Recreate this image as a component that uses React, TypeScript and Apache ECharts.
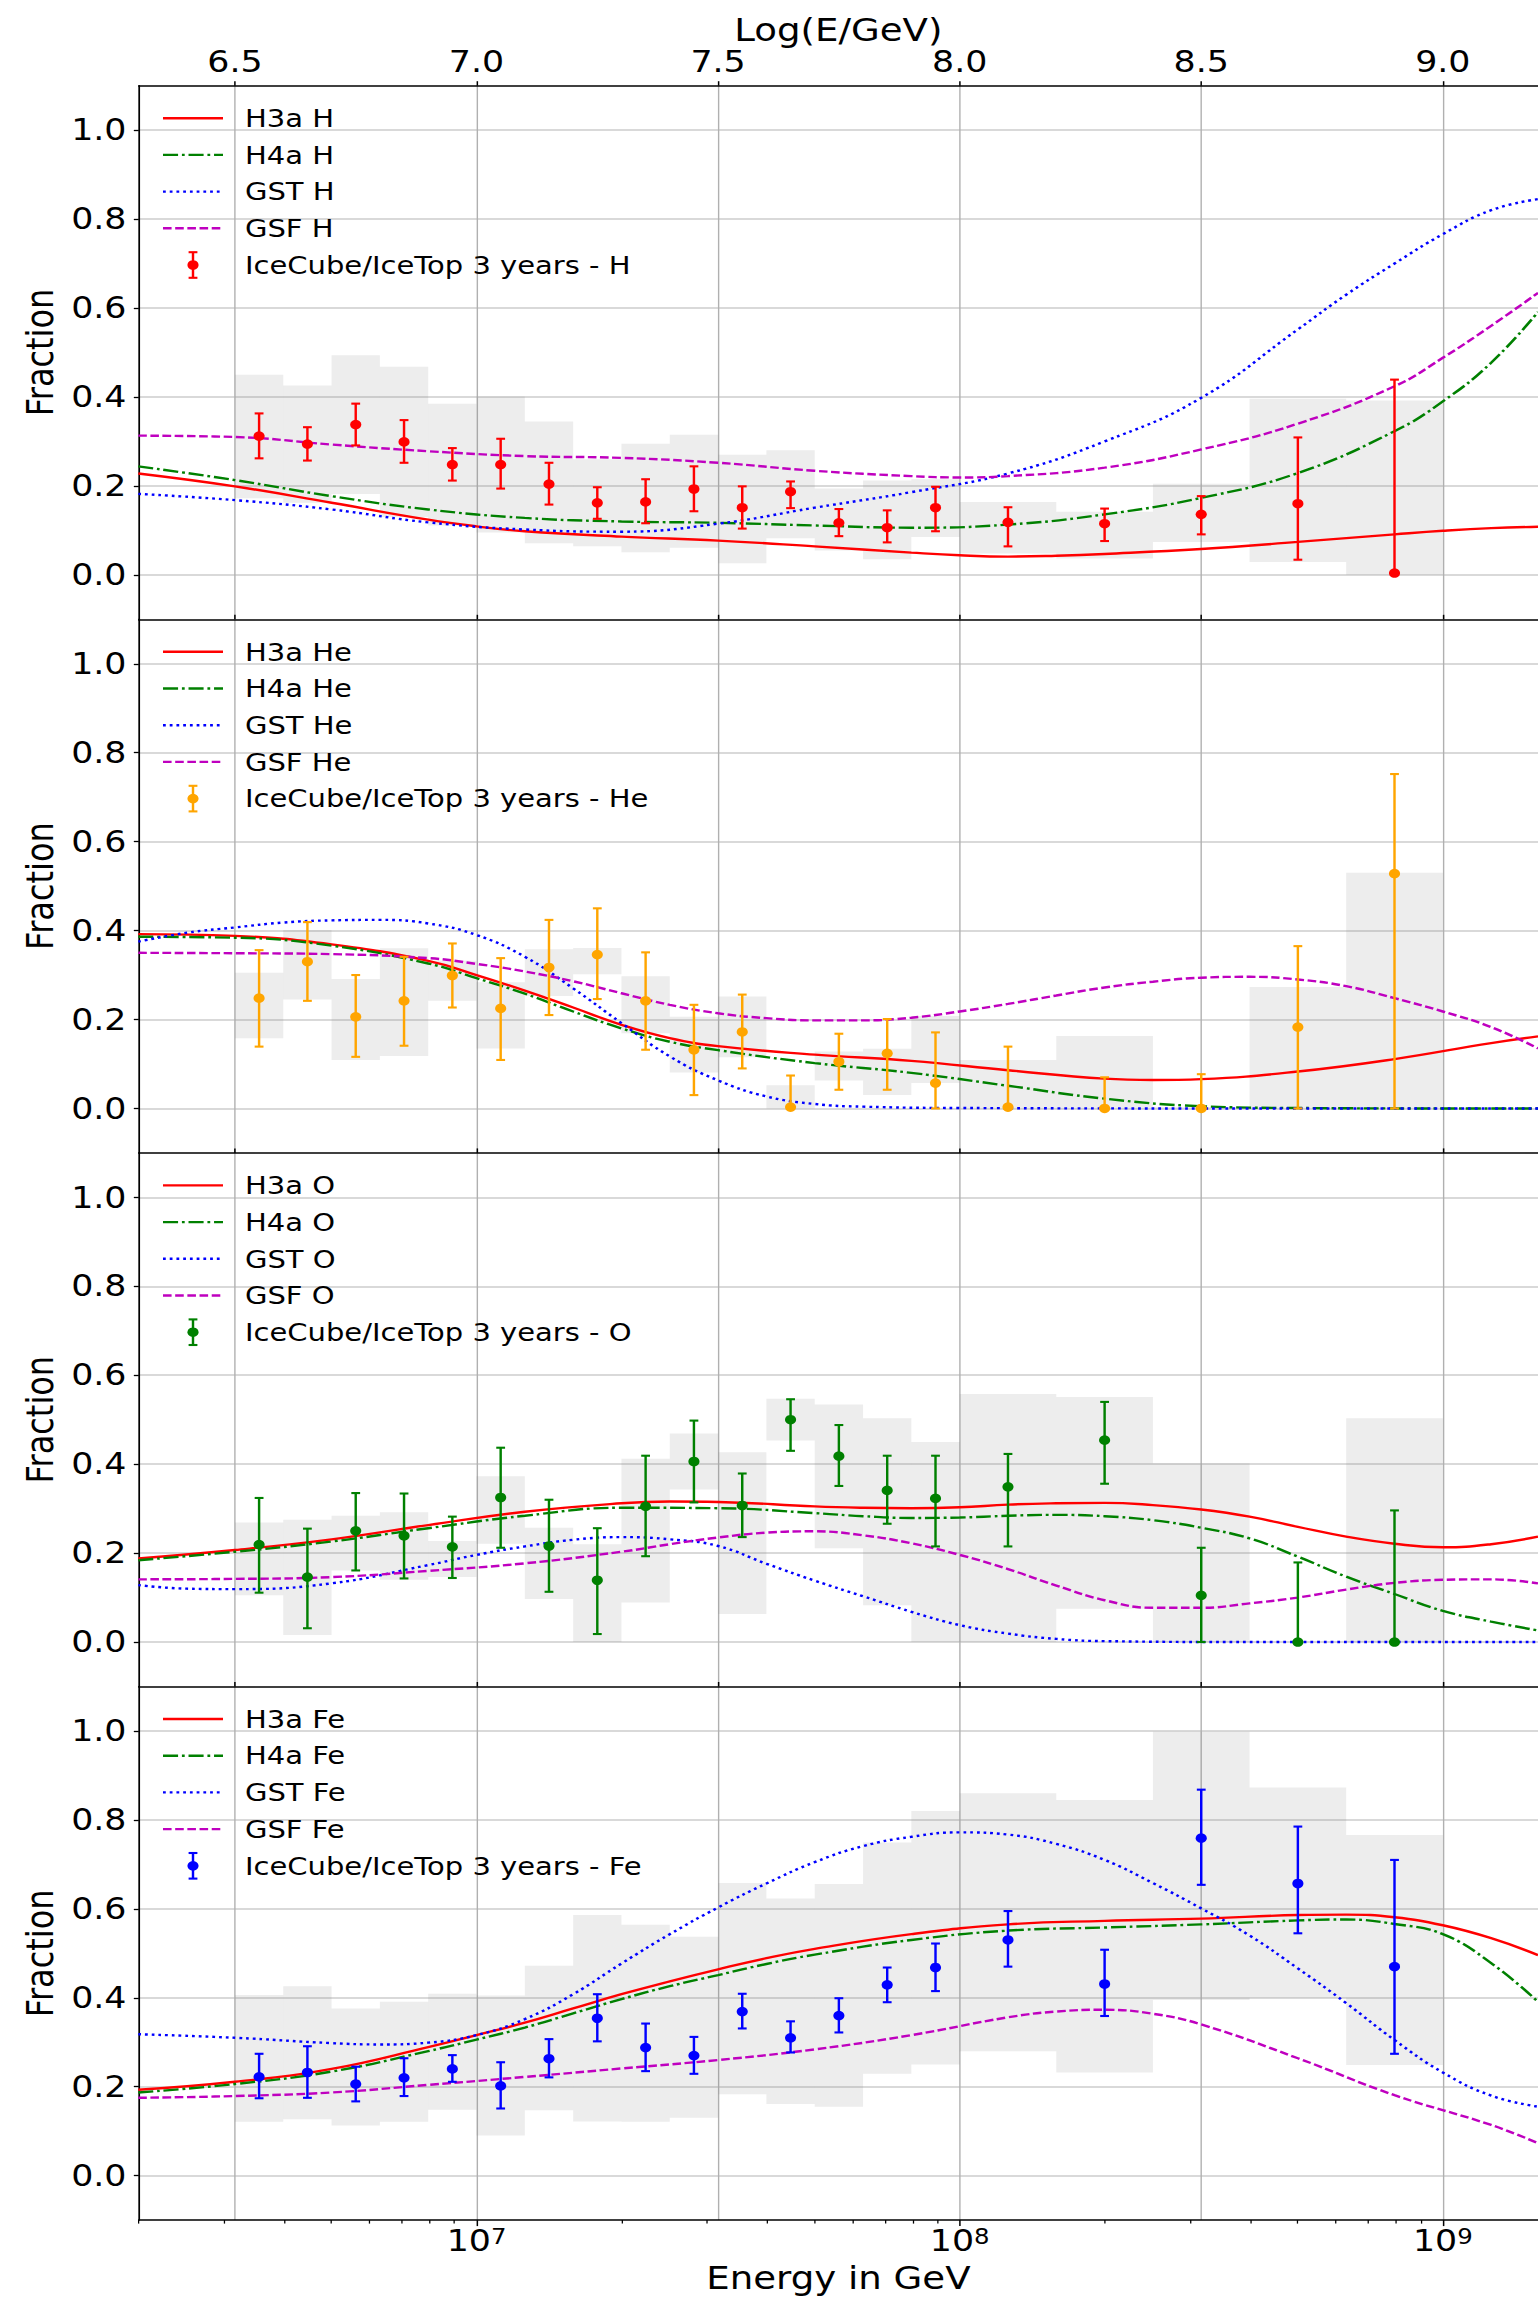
import React, { useEffect, useRef } from "react";
import * as echarts from "echarts";

// The plot is laid out on a narrower canvas and widened with a CSS scaleX,
// which gives the broad lettering of the figure.
const STRETCH = 1.16;
const PAGE_W = 1538;
const PAGE_H = 2299;
const CANVAS_W = PAGE_W / STRETCH;
const FONT = "DejaVu Sans";

// energy range, log10(E/GeV)
const LOG_MIN = Math.log10(2e6);
const LOG_MAX = 9.197;

const topTickValues = [6.5, 7.0, 7.5, 8.0, 8.5, 9.0];
const decadeTickValues = [7, 8, 9];
const fractionTickValues = [0, 0.2, 0.4, 0.6, 0.8, 1.0];

const minorTickValues: number[] = [];
for (let dec = 6; dec <= 8; dec++) {
  for (let k = 2; k <= 9; k++) {
    const lg = Math.log10(k * Math.pow(10, dec));
    if (lg >= LOG_MIN - 1e-9 && lg <= LOG_MAX) minorTickValues.push(lg);
  }
}

// energy bins (log10 E) and bin centres
const binEdges = [6.5, 6.6, 6.7, 6.8, 6.9, 7.0, 7.1, 7.2, 7.3, 7.4, 7.5, 7.6, 7.7, 7.8, 7.9, 8.0, 8.2, 8.4, 8.6, 8.8, 9.0];
const logE = [6.55, 6.65, 6.75, 6.85, 6.95, 7.05, 7.15, 7.25, 7.35, 7.45, 7.55, 7.65, 7.75, 7.85, 7.95, 8.1, 8.3, 8.5, 8.7, 8.9];

// ---- IceCube/IceTop 3 years: proton ----
const hFrac = [0.312, 0.294, 0.338, 0.299, 0.248, 0.248, 0.204, 0.162, 0.164, 0.193, 0.151, 0.187, 0.117, 0.106, 0.151, 0.118, 0.115, 0.136, 0.160, 0.004];
const hErrHi = [0.363, 0.332, 0.385, 0.348, 0.285, 0.306, 0.252, 0.197, 0.215, 0.244, 0.199, 0.210, 0.148, 0.145, 0.198, 0.152, 0.149, 0.177, 0.309, 0.439];
const hErrLo = [0.262, 0.257, 0.291, 0.252, 0.212, 0.194, 0.158, 0.126, 0.116, 0.143, 0.104, 0.150, 0.087, 0.073, 0.098, 0.064, 0.076, 0.091, 0.034, 0.004];
const hSysHi = [0.450, 0.426, 0.494, 0.468, 0.385, 0.401, 0.345, 0.260, 0.295, 0.315, 0.270, 0.280, 0.194, 0.212, 0.215, 0.164, 0.142, 0.205, 0.396, 0.392];
const hSysLo = [0.172, 0.162, 0.182, 0.130, 0.111, 0.095, 0.071, 0.064, 0.051, 0.061, 0.026, 0.082, 0.055, 0.035, 0.085, 0.048, 0.037, 0.074, 0.029, 0.000];

// ---- helium ----
const heFrac = [0.248, 0.330, 0.206, 0.242, 0.299, 0.225, 0.317, 0.346, 0.242, 0.132, 0.172, 0.003, 0.105, 0.124, 0.057, 0.003, 0.000, 0.000, 0.183, 0.528];
const heErrHi = [0.356, 0.419, 0.300, 0.341, 0.371, 0.338, 0.424, 0.450, 0.351, 0.233, 0.256, 0.074, 0.168, 0.201, 0.171, 0.139, 0.070, 0.077, 0.365, 0.752];
const heErrLo = [0.139, 0.242, 0.116, 0.141, 0.227, 0.109, 0.210, 0.246, 0.132, 0.030, 0.090, 0.000, 0.042, 0.042, 0.000, 0.000, 0.000, 0.000, 0.000, 0.000];
const heSysHi = [0.305, 0.401, 0.291, 0.360, 0.332, 0.284, 0.358, 0.361, 0.297, 0.206, 0.252, 0.052, 0.128, 0.134, 0.208, 0.109, 0.163, 0.003, 0.273, 0.530];
const heSysLo = [0.158, 0.245, 0.109, 0.118, 0.242, 0.135, 0.253, 0.302, 0.169, 0.081, 0.115, 0.000, 0.063, 0.030, 0.057, 0.000, 0.000, 0.000, 0.000, 0.000];

// ---- oxygen ----
const oFrac = [0.219, 0.146, 0.250, 0.239, 0.214, 0.325, 0.216, 0.139, 0.305, 0.406, 0.307, 0.500, 0.418, 0.341, 0.323, 0.349, 0.454, 0.105, 0.000, 0.000];
const oErrHi = [0.324, 0.255, 0.335, 0.334, 0.282, 0.437, 0.320, 0.256, 0.419, 0.498, 0.379, 0.546, 0.488, 0.419, 0.419, 0.423, 0.540, 0.212, 0.179, 0.296];
const oErrLo = [0.111, 0.031, 0.161, 0.143, 0.144, 0.212, 0.113, 0.018, 0.193, 0.314, 0.236, 0.430, 0.351, 0.266, 0.215, 0.215, 0.356, 0.000, 0.000, 0.000];
const oSysHi = [0.269, 0.275, 0.284, 0.292, 0.227, 0.373, 0.257, 0.220, 0.412, 0.469, 0.427, 0.547, 0.534, 0.503, 0.450, 0.558, 0.551, 0.402, 0.000, 0.503];
const oSysLo = [0.105, 0.016, 0.161, 0.140, 0.146, 0.221, 0.097, 0.000, 0.089, 0.343, 0.063, 0.453, 0.211, 0.083, 0.000, 0.000, 0.075, 0.000, 0.000, 0.000];

// ---- iron ----
const feFrac = [0.222, 0.232, 0.206, 0.220, 0.240, 0.202, 0.263, 0.354, 0.288, 0.270, 0.369, 0.310, 0.360, 0.429, 0.468, 0.530, 0.431, 0.759, 0.657, 0.470];
const feErrHi = [0.274, 0.291, 0.245, 0.264, 0.271, 0.255, 0.307, 0.408, 0.342, 0.312, 0.409, 0.347, 0.399, 0.468, 0.522, 0.595, 0.508, 0.868, 0.785, 0.710];
const feErrLo = [0.174, 0.175, 0.167, 0.179, 0.211, 0.151, 0.221, 0.302, 0.235, 0.229, 0.331, 0.277, 0.322, 0.390, 0.415, 0.470, 0.359, 0.654, 0.545, 0.274];
const feSysHi = [0.406, 0.426, 0.376, 0.391, 0.409, 0.405, 0.472, 0.586, 0.564, 0.537, 0.658, 0.623, 0.656, 0.749, 0.820, 0.860, 0.845, 0.998, 0.873, 0.766];
const feSysLo = [0.121, 0.127, 0.113, 0.121, 0.148, 0.090, 0.147, 0.122, 0.121, 0.130, 0.183, 0.161, 0.155, 0.229, 0.250, 0.280, 0.232, 0.395, 0.400, 0.249];

// ---- model predictions, [log10 E, fraction] ----
const h3aH = [[6.3, 0.228], [6.5, 0.199], [6.7, 0.162], [6.9, 0.124], [7.0, 0.109], [7.1, 0.098], [7.3, 0.086], [7.5, 0.077], [7.7, 0.064], [7.9, 0.050], [8.0, 0.044], [8.1, 0.041], [8.2, 0.043], [8.3, 0.047], [8.5, 0.058], [8.7, 0.074], [8.9, 0.091], [9.0, 0.099], [9.1, 0.105], [9.197, 0.108]];
const h4aH = [[6.3, 0.244], [6.5, 0.213], [6.7, 0.177], [6.9, 0.147], [7.1, 0.128], [7.3, 0.120], [7.5, 0.117], [7.7, 0.111], [7.9, 0.106], [8.1, 0.113], [8.3, 0.136], [8.5, 0.173], [8.7, 0.229], [8.9, 0.323], [9.0, 0.390], [9.1, 0.477], [9.197, 0.591]];
const gstH = [[6.3, 0.182], [6.5, 0.168], [6.7, 0.147], [6.9, 0.118], [7.1, 0.102], [7.3, 0.097], [7.5, 0.115], [7.7, 0.151], [7.9, 0.186], [8.1, 0.228], [8.3, 0.300], [8.5, 0.398], [8.7, 0.552], [8.8, 0.630], [8.9, 0.700], [9.0, 0.766], [9.1, 0.820], [9.197, 0.845]];
const gsfH = [[6.3, 0.313], [6.5, 0.310], [6.7, 0.293], [6.9, 0.278], [7.1, 0.267], [7.3, 0.263], [7.5, 0.252], [7.7, 0.234], [7.9, 0.222], [8.0, 0.219], [8.1, 0.222], [8.3, 0.241], [8.5, 0.282], [8.7, 0.340], [8.9, 0.424], [9.0, 0.488], [9.1, 0.560], [9.197, 0.634]];

const h3aHe = [[6.3, 0.392], [6.5, 0.388], [6.7, 0.369], [6.9, 0.332], [7.0, 0.300], [7.1, 0.265], [7.2, 0.227], [7.3, 0.188], [7.4, 0.158], [7.5, 0.140], [7.7, 0.121], [7.9, 0.107], [8.1, 0.086], [8.3, 0.067], [8.4, 0.064], [8.5, 0.066], [8.7, 0.083], [8.9, 0.111], [9.1, 0.147], [9.197, 0.162]];
const h4aHe = [[6.3, 0.386], [6.5, 0.384], [6.7, 0.366], [6.9, 0.326], [7.0, 0.293], [7.1, 0.258], [7.2, 0.218], [7.3, 0.180], [7.4, 0.150], [7.5, 0.131], [7.7, 0.102], [7.9, 0.080], [8.1, 0.051], [8.3, 0.022], [8.5, 0.005], [8.7, 0.001], [9.0, 0.0], [9.197, 0.0]];
const gstHe = [[6.3, 0.375], [6.4, 0.395], [6.5, 0.407], [6.6, 0.418], [6.7, 0.423], [6.8, 0.424], [6.9, 0.416], [7.0, 0.390], [7.1, 0.341], [7.2, 0.270], [7.3, 0.192], [7.4, 0.117], [7.5, 0.063], [7.6, 0.027], [7.7, 0.010], [7.8, 0.004], [8.0, 0.001], [8.5, 0.0], [9.197, 0.0]];
const gsfHe = [[6.3, 0.350], [6.5, 0.349], [6.7, 0.347], [6.9, 0.338], [7.0, 0.325], [7.1, 0.308], [7.2, 0.286], [7.3, 0.259], [7.4, 0.233], [7.5, 0.214], [7.6, 0.203], [7.7, 0.198], [7.8, 0.198], [7.9, 0.204], [8.0, 0.218], [8.1, 0.235], [8.2, 0.254], [8.3, 0.272], [8.4, 0.285], [8.5, 0.294], [8.6, 0.296], [8.7, 0.290], [8.8, 0.275], [8.9, 0.248], [9.0, 0.218], [9.1, 0.183], [9.197, 0.135]];

const h3aO = [[6.3, 0.188], [6.5, 0.207], [6.7, 0.231], [6.9, 0.263], [7.1, 0.293], [7.3, 0.312], [7.4, 0.316], [7.5, 0.315], [7.7, 0.305], [7.8, 0.302], [7.9, 0.301], [8.0, 0.303], [8.1, 0.309], [8.2, 0.312], [8.3, 0.313], [8.4, 0.308], [8.5, 0.298], [8.6, 0.282], [8.7, 0.259], [8.8, 0.237], [8.9, 0.221], [9.0, 0.213], [9.1, 0.220], [9.197, 0.237]];
const h4aO = [[6.3, 0.184], [6.5, 0.203], [6.7, 0.226], [6.9, 0.256], [7.1, 0.284], [7.3, 0.302], [7.5, 0.301], [7.7, 0.290], [7.8, 0.283], [7.9, 0.279], [8.0, 0.280], [8.1, 0.284], [8.2, 0.286], [8.3, 0.283], [8.4, 0.274], [8.5, 0.257], [8.6, 0.233], [8.7, 0.192], [8.8, 0.147], [8.9, 0.108], [9.0, 0.070], [9.1, 0.046], [9.197, 0.026]];
const gstO = [[6.3, 0.128], [6.4, 0.120], [6.5, 0.119], [6.7, 0.132], [6.9, 0.173], [7.0, 0.196], [7.1, 0.215], [7.2, 0.230], [7.3, 0.236], [7.4, 0.231], [7.5, 0.216], [7.6, 0.176], [7.7, 0.138], [7.8, 0.103], [7.9, 0.068], [8.0, 0.038], [8.1, 0.019], [8.2, 0.007], [8.3, 0.002], [8.6, 0.0], [9.197, 0.0]];
const gsfO = [[6.3, 0.141], [6.5, 0.142], [6.7, 0.146], [6.9, 0.160], [7.1, 0.177], [7.3, 0.203], [7.4, 0.220], [7.5, 0.235], [7.6, 0.246], [7.7, 0.249], [7.8, 0.240], [7.9, 0.222], [8.0, 0.196], [8.1, 0.164], [8.2, 0.127], [8.3, 0.094], [8.4, 0.077], [8.5, 0.077], [8.6, 0.087], [8.7, 0.100], [8.8, 0.118], [8.9, 0.133], [9.0, 0.140], [9.1, 0.141], [9.197, 0.132]];

const h3aFe = [[6.3, 0.193], [6.5, 0.211], [6.7, 0.240], [6.9, 0.289], [7.0, 0.316], [7.1, 0.344], [7.2, 0.376], [7.3, 0.408], [7.4, 0.437], [7.5, 0.464], [7.6, 0.489], [7.7, 0.510], [7.9, 0.543], [8.1, 0.565], [8.3, 0.573], [8.5, 0.578], [8.7, 0.586], [8.8, 0.587], [8.9, 0.581], [9.0, 0.563], [9.1, 0.534], [9.197, 0.496]];
const h4aFe = [[6.3, 0.187], [6.5, 0.206], [6.7, 0.234], [6.9, 0.280], [7.0, 0.306], [7.1, 0.333], [7.2, 0.365], [7.3, 0.397], [7.4, 0.426], [7.5, 0.451], [7.6, 0.476], [7.7, 0.497], [7.9, 0.530], [8.1, 0.551], [8.3, 0.558], [8.5, 0.565], [8.7, 0.574], [8.8, 0.576], [8.9, 0.566], [9.0, 0.543], [9.1, 0.478], [9.197, 0.391]];
const gstFe = [[6.3, 0.318], [6.5, 0.310], [6.7, 0.298], [6.8, 0.295], [6.9, 0.299], [7.0, 0.316], [7.1, 0.352], [7.2, 0.408], [7.3, 0.477], [7.4, 0.543], [7.5, 0.603], [7.6, 0.657], [7.7, 0.705], [7.8, 0.741], [7.9, 0.762], [8.0, 0.772], [8.1, 0.767], [8.2, 0.746], [8.3, 0.710], [8.4, 0.658], [8.5, 0.601], [8.6, 0.540], [8.7, 0.466], [8.8, 0.388], [8.9, 0.305], [9.0, 0.232], [9.1, 0.180], [9.197, 0.155]];
const gsfFe = [[6.3, 0.175], [6.5, 0.179], [6.7, 0.187], [6.9, 0.204], [7.1, 0.222], [7.3, 0.241], [7.5, 0.260], [7.7, 0.284], [7.9, 0.316], [8.1, 0.356], [8.2, 0.369], [8.3, 0.373], [8.4, 0.364], [8.5, 0.340], [8.7, 0.264], [8.9, 0.181], [9.1, 0.114], [9.197, 0.073]];

const models = [
  { key: "H3a", color: "#ff0000", dash: null as number[] | null },
  { key: "H4a", color: "#008000", dash: [13, 3.3, 2.4, 3.3] },
  { key: "GST", color: "#0000ff", dash: [2.4, 3.4] },
  { key: "GSF", color: "#bf00bf", dash: [7.4, 3.1] },
];

const elements = [
  { symbol: "H", color: "#ff0000", frac: hFrac, errLo: hErrLo, errHi: hErrHi, sysLo: hSysLo, sysHi: hSysHi, curves: [h3aH, h4aH, gstH, gsfH] },
  { symbol: "He", color: "#ffa500", frac: heFrac, errLo: heErrLo, errHi: heErrHi, sysLo: heSysLo, sysHi: heSysHi, curves: [h3aHe, h4aHe, gstHe, gsfHe] },
  { symbol: "O", color: "#008000", frac: oFrac, errLo: oErrLo, errHi: oErrHi, sysLo: oSysLo, sysHi: oSysHi, curves: [h3aO, h4aO, gstO, gsfO] },
  { symbol: "Fe", color: "#0000ff", frac: feFrac, errLo: feErrLo, errHi: feErrHi, sysLo: feSysLo, sysHi: feSysHi, curves: [h3aFe, h4aFe, gstFe, gsfFe] },
];

// layout (canvas px)
const GRID_LEFT = 138.8 / STRETCH;
const PANEL_TOP0 = 85.7;
const PANEL_H = 533.6;
const LEG_X0 = 163 / STRETCH;
const LEG_X1 = 223 / STRETCH;
const LEG_TEXT_X = 245 / STRETCH;
const LEG_ROW0 = 32.5;
const LEG_ROW_STEP = 36.7;

const LINE_W = 2.4;
const ERR_W = 2.1;
const CAP_HALF = 3.8;
const DOT_R = 4.8;
const SYS_FILL = "rgba(128,128,128,0.14)";

function errorBarGlyph(color: string, cx: number, yTop: number, yBot: number, yMid: number) {
  return [
    { type: "line", shape: { x1: cx, y1: yTop, x2: cx, y2: yBot }, style: { stroke: color, lineWidth: ERR_W } },
    { type: "line", shape: { x1: cx - CAP_HALF, y1: yTop, x2: cx + CAP_HALF, y2: yTop }, style: { stroke: color, lineWidth: ERR_W } },
    { type: "line", shape: { x1: cx - CAP_HALF, y1: yBot, x2: cx + CAP_HALF, y2: yBot }, style: { stroke: color, lineWidth: ERR_W } },
    { type: "circle", shape: { cx, cy: yMid, r: DOT_R }, style: { fill: color } },
  ];
}

function buildOption() {
  const grid = elements.map((_, i) => ({
    left: GRID_LEFT,
    right: 0,
    top: PANEL_TOP0 + i * PANEL_H,
    height: PANEL_H,
    containLabel: false,
    outerBoundsMode: "none",
  }));

  const xAxis: any[] = elements.map((_, i) => ({
    type: "value",
    gridIndex: i,
    position: "top",
    min: LOG_MIN,
    max: LOG_MAX,
    axisLine: { show: true, onZero: false, lineStyle: { color: "#000", width: 1.5 } },
    axisTick: { show: true, customValues: topTickValues, length: 4.5, lineStyle: { color: "#000", width: 1.3 } },
    axisLabel: {
      show: i === 0,
      customValues: topTickValues,
      formatter: (v: number) => v.toFixed(1),
      fontSize: 30,
      fontFamily: FONT,
      color: "#000",
      margin: 9,
    },
    splitLine: { show: true, lineStyle: { color: "#b0b0b0", width: 1.2 } },
    name: i === 0 ? "Log(E/GeV)" : "",
    nameLocation: "middle",
    nameGap: 37,
    nameTextStyle: { fontSize: 32, fontFamily: FONT, color: "#000" },
  }));

  // energy axis under the last panel: decades and minor ticks
  xAxis.push({
    type: "value",
    gridIndex: 3,
    position: "bottom",
    min: LOG_MIN,
    max: LOG_MAX,
    axisLine: { show: true, onZero: false, lineStyle: { color: "#000", width: 1.5 } },
    axisTick: { show: true, customValues: decadeTickValues, length: 6, lineStyle: { color: "#000", width: 1.3 } },
    axisLabel: {
      show: true,
      customValues: decadeTickValues,
      formatter: (v: number) => `{b|10}{s|${Math.round(v)}}`,
      margin: 6,
      rich: {
        b: { fontSize: 30, fontFamily: FONT, color: "#000", lineHeight: 30 },
        s: { fontSize: 21, fontFamily: FONT, color: "#000", lineHeight: 21, verticalAlign: "top" },
      },
    },
    splitLine: { show: false },
    name: "Energy in GeV",
    nameLocation: "middle",
    nameGap: 42,
    nameTextStyle: { fontSize: 32, fontFamily: FONT, color: "#000" },
  });
  xAxis.push({
    type: "value",
    gridIndex: 3,
    position: "bottom",
    min: LOG_MIN,
    max: LOG_MAX,
    axisLine: { show: false, onZero: false },
    axisTick: { show: true, customValues: minorTickValues, length: 3.5, lineStyle: { color: "#000", width: 1.1 } },
    axisLabel: { show: false },
    splitLine: { show: false },
  });

  const yAxis = elements.map((_, i) => ({
    type: "value",
    gridIndex: i,
    min: -0.1,
    max: 1.1,
    axisLine: { show: true, onZero: false, lineStyle: { color: "#000", width: 1.5 } },
    axisTick: { show: true, customValues: fractionTickValues, length: 4.3, lineStyle: { color: "#000", width: 1.3 } },
    axisLabel: {
      show: true,
      customValues: fractionTickValues,
      formatter: (v: number) => v.toFixed(1),
      fontSize: 30,
      fontFamily: FONT,
      color: "#000",
      margin: 10.6,
    },
    splitLine: { show: true, lineStyle: { color: "#cccccc", width: 1.6 } },
    name: "Fraction",
    nameLocation: "middle",
    nameGap: 62,
    nameRotate: 90,
    nameTextStyle: { fontSize: 32, fontFamily: FONT, color: "#000" },
  }));

  const series: any[] = [];
  elements.forEach((el, i) => {
    // systematic uncertainty boxes
    series.push({
      type: "custom",
      xAxisIndex: i,
      yAxisIndex: i,
      z: 1,
      silent: true,
      clip: true,
      encode: { x: [0, 1], y: [2, 3] },
      data: el.frac.map((_, j) => [binEdges[j], binEdges[j + 1], el.sysLo[j], el.sysHi[j]]),
      renderItem: (_p: any, api: any) => {
        const a = api.coord([api.value(0), api.value(3)]);
        const b = api.coord([api.value(1), api.value(2)]);
        return {
          type: "rect",
          shape: { x: a[0], y: a[1], width: b[0] - a[0], height: b[1] - a[1] },
          style: { fill: SYS_FILL },
        };
      },
    });

    // model curves
    models.forEach((m, k) => {
      series.push({
        type: "line",
        name: `${m.key} ${el.symbol}`,
        xAxisIndex: i,
        yAxisIndex: i,
        z: 2,
        data: el.curves[k],
        showSymbol: false,
        symbol: "none",
        smooth: 0.45,
        silent: true,
        lineStyle: { color: m.color, width: LINE_W, type: m.dash ? m.dash : "solid", cap: "butt" },
      });
    });

    // measured fractions with statistical error bars
    series.push({
      type: "custom",
      name: `IceCube/IceTop 3 years - ${el.symbol}`,
      xAxisIndex: i,
      yAxisIndex: i,
      z: 3,
      silent: true,
      encode: { x: 0, y: [1, 2, 3] },
      data: logE.map((x, j) => [x, el.frac[j], el.errLo[j], el.errHi[j]]),
      renderItem: (_p: any, api: any) => {
        const mid = api.coord([api.value(0), api.value(1)]);
        const lo = api.coord([api.value(0), api.value(2)]);
        const hi = api.coord([api.value(0), api.value(3)]);
        return { type: "group", children: errorBarGlyph(el.color, mid[0], hi[1], lo[1], mid[1]) };
      },
    });
  });

  // per-panel legends
  const graphic: any[] = [];
  elements.forEach((el, i) => {
    const top = PANEL_TOP0 + i * PANEL_H;
    models.forEach((m, k) => {
      const y = top + LEG_ROW0 + k * LEG_ROW_STEP;
      graphic.push({
        type: "line",
        silent: true,
        z: 10,
        shape: { x1: LEG_X0, y1: y, x2: LEG_X1, y2: y },
        style: { stroke: m.color, lineWidth: LINE_W, lineDash: m.dash ? m.dash : null },
      });
      graphic.push({
        type: "text",
        silent: true,
        z: 10,
        x: LEG_TEXT_X,
        y,
        style: { text: `${m.key} ${el.symbol}`, fontSize: 25, fontFamily: FONT, fill: "#000", align: "left", verticalAlign: "middle" },
      });
    });
    const y = top + LEG_ROW0 + 4 * LEG_ROW_STEP;
    const cx = (LEG_X0 + LEG_X1) / 2;
    graphic.push({
      type: "group",
      silent: true,
      z: 10,
      children: errorBarGlyph(el.color, cx, y - 12.8, y + 12.8, y),
    });
    graphic.push({
      type: "text",
      silent: true,
      z: 10,
      x: LEG_TEXT_X,
      y,
      style: {
        text: `IceCube/IceTop 3 years - ${el.symbol}`,
        fontSize: 25,
        fontFamily: FONT,
        fill: "#000",
        align: "left",
        verticalAlign: "middle",
      },
    });
  });

  return {
    animation: false,
    backgroundColor: "#ffffff",
    textStyle: { fontFamily: FONT },
    grid,
    xAxis,
    yAxis,
    series,
    graphic,
  };
}

export default function App() {
  const ref = useRef<HTMLDivElement>(null);
  useEffect(() => {
    document.body.style.margin = "0";
    document.documentElement.style.overflow = "hidden";
    const chart = echarts.init(ref.current!, undefined, { renderer: "svg", width: CANVAS_W, height: PAGE_H });
    chart.setOption(buildOption() as any);
    return () => chart.dispose();
  }, []);
  return (
    <div
      ref={ref}
      style={{
        position: "absolute",
        left: 0,
        top: 0,
        width: CANVAS_W,
        height: PAGE_H,
        transform: `scaleX(${STRETCH})`,
        transformOrigin: "0 0",
        background: "#ffffff",
      }}
    />
  );
}
